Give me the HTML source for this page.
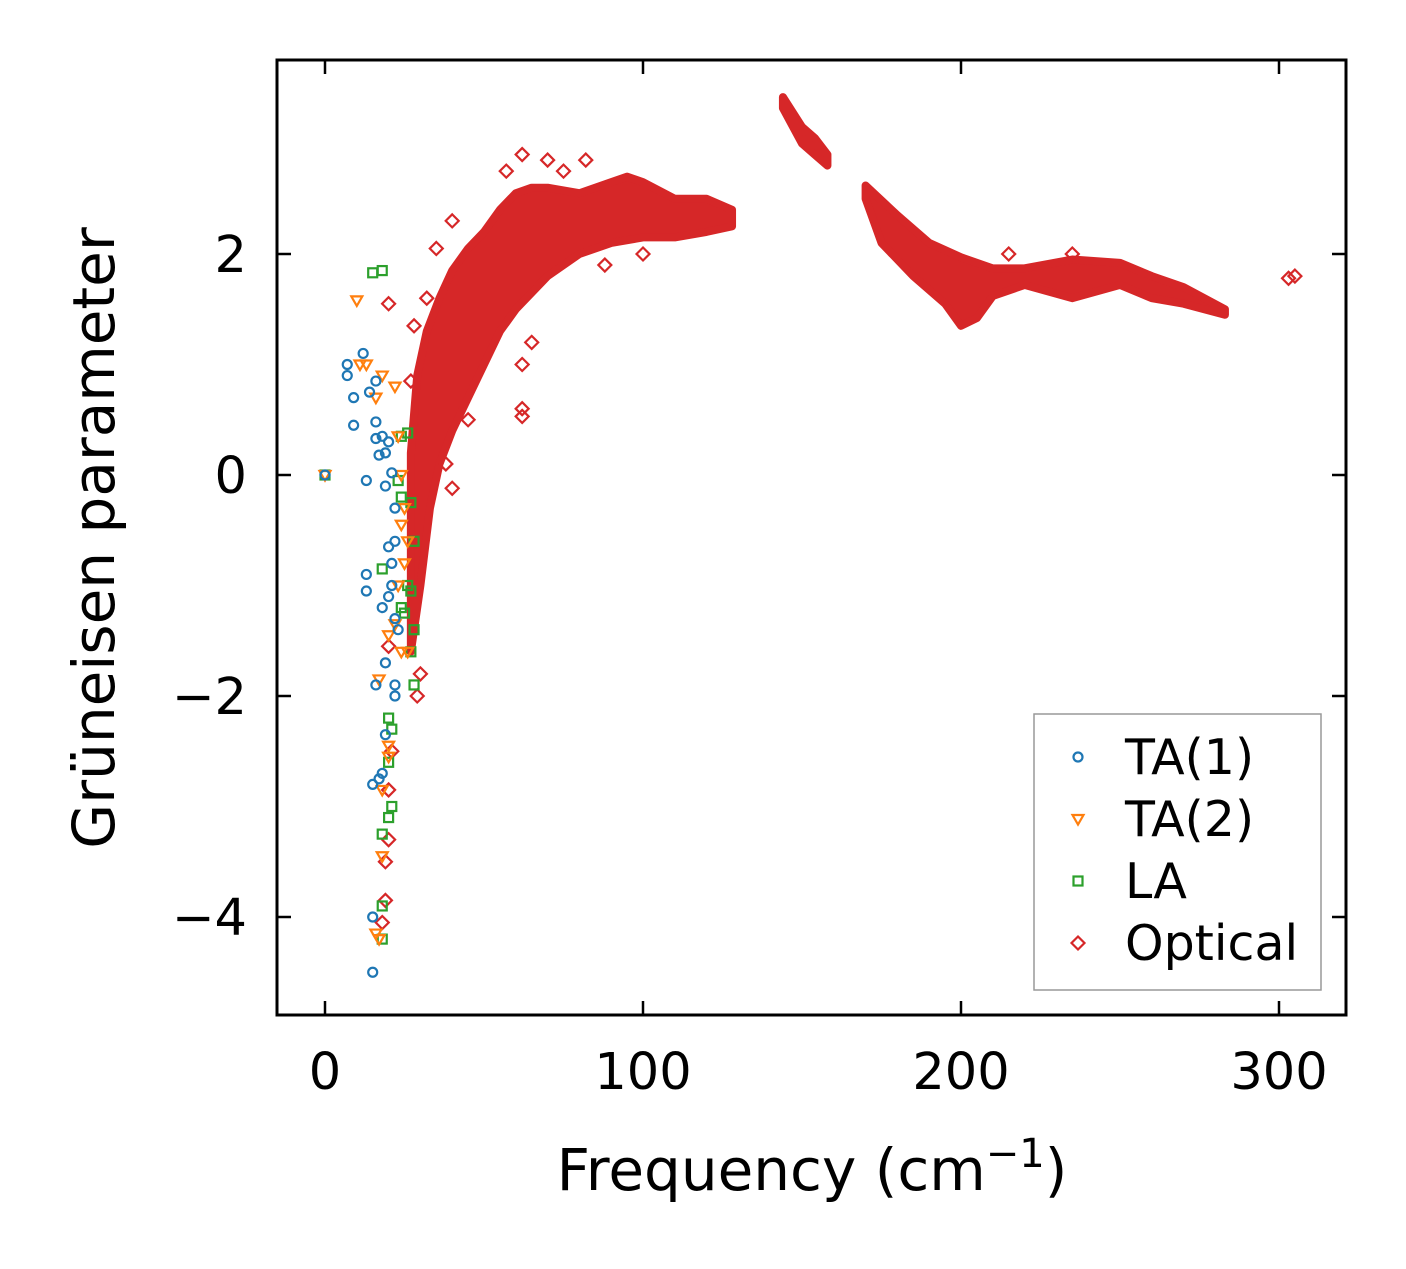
<!DOCTYPE html>
<html><head><meta charset="utf-8"><style>
html,body{margin:0;padding:0;background:#fff;}
svg text{font-family:"DejaVu Sans","Liberation Sans",sans-serif;fill:#000;}
</style></head><body>
<svg id="chart" width="1406" height="1264" viewBox="0 0 1406 1264" xmlns="http://www.w3.org/2000/svg">
<g id="marks"></g>
<g id="axes"></g>
</svg>
<script>
const xTicks=[0,100,200,300];
const yTicks=[-4,-2,0,2];
const xTickLabels=["0","100","200","300"];
const yTickLabels=["\u22124","\u22122","0","2"];
const ta1=[[0,0],[7,1.0],[7,0.9],[9,0.7],[9,0.45],[12,1.1],[13,-0.05],[14,0.75],[16,0.85],[16,0.48],[16,0.33],[17,0.18],[18,0.35],[19,0.2],[19,-0.1],[20,0.3],[21,0.02],[22,-0.3],[22,-0.6],[20,-0.65],[21,-0.8],[13,-0.9],[13,-1.05],[18,-1.2],[20,-1.1],[21,-1.0],[22,-1.3],[23,-1.4],[19,-1.7],[16,-1.9],[22,-1.9],[22,-2.0],[19,-2.35],[17,-2.75],[15,-2.8],[18,-2.7],[15,-4.0],[15,-4.5]];
const ta2=[[0,0],[10,1.58],[11,1.0],[13,1.0],[16,0.7],[18,0.9],[22,0.8],[23,0.35],[24,0.0],[25,-0.3],[26,-0.6],[25,-0.8],[23,-1.0],[22,-1.35],[20,-1.45],[24,-1.6],[26,-1.6],[17,-1.85],[20,-2.45],[20,-2.55],[18,-2.85],[18,-3.45],[16,-4.15],[17,-4.2],[24,-0.45]];
const la=[[0,0],[15,1.83],[18,1.85],[24,0.35],[26,0.38],[23,-0.05],[24,-0.2],[27,-0.25],[28,-0.6],[26,-1.0],[27,-1.05],[24,-1.2],[25,-1.25],[28,-1.4],[27,-1.6],[28,-1.9],[20,-2.2],[21,-2.3],[20,-2.6],[21,-3.0],[20,-3.1],[18,-3.25],[18,-3.9],[18,-4.2],[18,-0.85]];
const opticalPoints=[[62,2.9],[70,2.85],[82,2.85],[57,2.75],[40,2.3],[35,2.05],[20,1.55],[28,1.35],[27,0.85],[62,0.6],[62,0.53],[40,-0.12],[20,-1.55],[21,-2.5],[20,-2.85],[20,-3.3],[19,-3.5],[19,-3.85],[18,-4.05],[65,1.2],[62,1.0],[88,1.9],[215,2.0],[235,2.0],[305,1.8],[303,1.78],[30,-1.8],[29,-2.0],[32,1.6],[45,0.5],[38,0.1],[75,2.75],[100,2.0]];
const cloud1Upper=[[27,0.2],[29,0.9],[32,1.3],[36,1.6],[40,1.85],[45,2.05],[50,2.2],[55,2.4],[60,2.55],[65,2.6],[70,2.6],[80,2.55],[90,2.65],[95,2.7],[100,2.65],[110,2.5],[120,2.5],[128,2.4]];
const cloud1Lower=[[27,-1.6],[30,-1.0],[33,-0.3],[36,0.1],[40,0.4],[45,0.7],[50,1.0],[55,1.3],[60,1.5],[70,1.8],[80,2.0],[90,2.1],[100,2.15],[110,2.15],[120,2.2],[128,2.25]];
const cloud2Upper=[[144,3.42],[150,3.15],[154,3.05],[158,2.9]];
const cloud2Lower=[[144,3.32],[150,3.0],[154,2.9],[158,2.8]];
const cloud3Upper=[[170,2.62],[180,2.35],[190,2.1],[200,1.97],[210,1.87],[220,1.87],[235,1.95],[250,1.92],[260,1.8],[270,1.7],[283,1.5]];
const cloud3Lower=[[170,2.5],[175,2.1],[185,1.8],[195,1.55],[200,1.35],[205,1.42],[210,1.62],[220,1.72],[235,1.6],[250,1.72],[260,1.6],[270,1.55],[283,1.45]];

const L=277,R=1346,T=60,B=1015;
const X=v=>325+v*3.18;
const Y=v=>475-v*110.5;
const NS="http://www.w3.org/2000/svg";
const marks=document.getElementById('marks');
const axes=document.getElementById('axes');
function mk(tag,attrs,parent){const e=document.createElementNS(NS,tag);for(const k in attrs)e.setAttribute(k,attrs[k]);parent.appendChild(e);return e;}
const C={ta1:"#1f77b4",ta2:"#ff7f0e",la:"#2ca02c",op:"#d62728"};
function marker(type,cx,cy,parent){
  let e;
  if(type==='ta1') e=mk('circle',{cx:cx,cy:cy,r:4.5,fill:'none',stroke:C.ta1,'stroke-width':2.2},parent);
  else if(type==='ta2') e=mk('polygon',{points:`${cx-5.5},${cy-4} ${cx+5.5},${cy-4} ${cx},${cy+5.5}`,fill:'none',stroke:C.ta2,'stroke-width':2.2},parent);
  else if(type==='la') e=mk('rect',{x:cx-4.5,y:cy-4.5,width:9,height:9,fill:'none',stroke:C.la,'stroke-width':2.2},parent);
  else e=mk('polygon',{points:`${cx},${cy-6.5} ${cx+6.5},${cy} ${cx},${cy+6.5} ${cx-6.5},${cy}`,fill:'none',stroke:C.op,'stroke-width':2.2},parent);
  return e;
}
function band(up,lo,name){
  const pts=up.map(p=>X(p[0])+','+Y(p[1])).concat(lo.slice().reverse().map(p=>X(p[0])+','+Y(p[1])));
  const e=mk('polygon',{points:pts.join(' '),fill:C.op,stroke:C.op,'stroke-width':8,'stroke-linejoin':'round'},marks);
  
  
}
band(cloud1Upper,cloud1Lower,'optical-cloud-low');
band(cloud2Upper,cloud2Lower,'optical-cloud-mid');
band(cloud3Upper,cloud3Lower,'optical-cloud-high');
opticalPoints.forEach(p=>{const e=marker('op',X(p[0]),Y(p[1]),marks);

});
la.forEach(p=>{const e=marker('la',X(p[0]),Y(p[1]),marks);

});
ta2.forEach(p=>{const e=marker('ta2',X(p[0]),Y(p[1]),marks);

});
ta1.forEach(p=>{const e=marker('ta1',X(p[0]),Y(p[1]),marks);

});

const fr=mk('rect',{x:L,y:T,width:R-L,height:B-T,fill:'none',stroke:'#000','stroke-width':3},axes);


xTicks.forEach((v,i)=>{
  const x=X(v);
  mk('line',{x1:x,y1:B,x2:x,y2:B-14,stroke:'#000','stroke-width':2.5},axes);
  mk('line',{x1:x,y1:T,x2:x,y2:T+14,stroke:'#000','stroke-width':2.5},axes);
  const t=mk('text',{x:x,y:B+74,'font-size':51,'text-anchor':'middle'},axes);
  t.textContent=xTickLabels[i];
  
  
});
yTicks.forEach((v,i)=>{
  const y=Y(v);
  mk('line',{x1:L,y1:y,x2:L+14,y2:y,stroke:'#000','stroke-width':2.5},axes);
  mk('line',{x1:R,y1:y,x2:R-14,y2:y,stroke:'#000','stroke-width':2.5},axes);
  const t=mk('text',{x:L-30,y:y+18,'font-size':51,'text-anchor':'end'},axes);
  t.textContent=yTickLabels[i];
  
  
});
const xt=mk('text',{x:812,y:1190,'font-size':58,'text-anchor':'middle'},axes);
xt.innerHTML='Frequency (cm<tspan dy="-23" font-size="40">\u22121</tspan><tspan dy="23">)</tspan>';


const yt=mk('text',{x:0,y:0,'font-size':58,'text-anchor':'middle',transform:'translate(114,538) rotate(-90)'},axes);
yt.textContent='Grüneisen parameter';


const lg=mk('g',{},axes);


mk('rect',{x:1034,y:714,width:287,height:276,fill:'#fff',stroke:'#999','stroke-width':1.5},lg);
const legendLabels=['TA(1)','TA(2)','LA','Optical'];
const legendTypes=['ta1','ta2','la','op'];
legendLabels.forEach((s,i)=>{
  const y=757+i*62;
  const m=marker(legendTypes[i],1078,y,lg);
  
  
  const t=mk('text',{x:1125,y:y+17,'font-size':49},lg);
  t.textContent=s;
  
  
});
</script>
</body></html>
